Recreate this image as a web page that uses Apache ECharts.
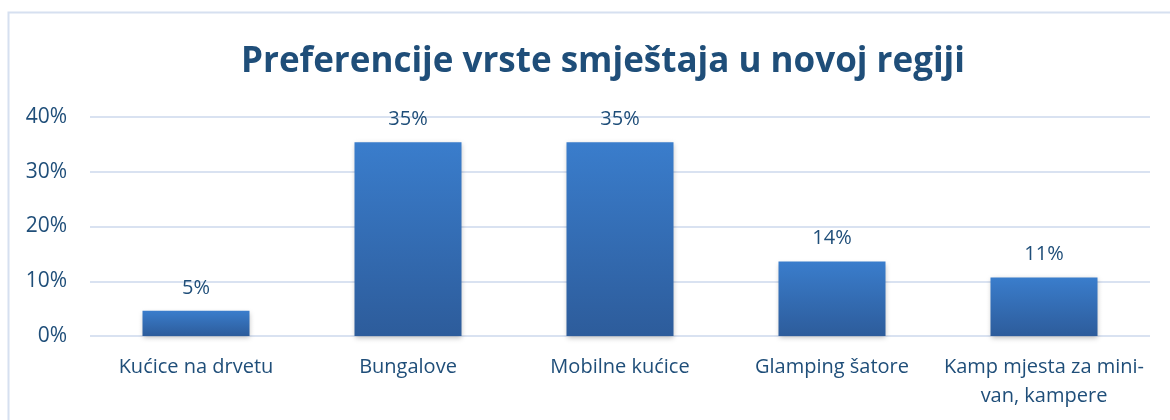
<!DOCTYPE html>
<html><head><meta charset="utf-8">
<script src="https://cdn.jsdelivr.net/npm/echarts@6/dist/echarts.min.js"></script>
<style>html,body{margin:0;padding:0;background:#fff}#c{width:1170px;height:420px}</style>
</head><body><div id="c"></div>
<script>
const categories = ['Kućice na drvetu', 'Bungalove', 'Mobilne kućice', 'Glamping šatore', 'Kamp mjesta za mini-\nvan, kampere'];
const values = [4.6, 35.4, 35.4, 13.6, 10.7];
const yTicks = [0, 10, 20, 30, 40];
const titleText = 'Preferencije vrste smještaja u novoj regiji';

const txt = '#1F4E79';
const font = 'Open Sans';
const chart = echarts.init(document.getElementById('c'), null, {renderer: 'canvas'});
chart.setOption({
  backgroundColor: '#fff',
  animation: false,
  graphic: [{
    type: 'rect', shape: {x: 8.5, y: 12.5, width: 1200, height: 500},
    style: {fill: 'none', stroke: '#D6E0F0', lineWidth: 2}, silent: true, z: -1
  }],
  title: {
    text: titleText, left: 598, textAlign: 'center', top: 40,
    textStyle: {color: txt, fontFamily: font, fontWeight: 'bold', fontSize: 35}
  },
  grid: {left: 90, right: 20, top: 117, bottom: 84},
  xAxis: {
    type: 'category', data: categories,
    axisLine: {show: false}, axisTick: {show: false},
    axisLabel: {color: txt, fontFamily: font, fontSize: 20, margin: 17, lineHeight: 29, interval: 0}
  },
  yAxis: {
    type: 'value', min: yTicks[0], max: yTicks[yTicks.length - 1], interval: 10,
    axisLine: {show: false}, axisTick: {show: false},
    axisLabel: {color: txt, fontFamily: font, fontSize: 21, margin: 23, formatter: v => v + '%'},
    splitLine: {lineStyle: {color: '#D9E2F1', width: 2}}
  },
  series: [{
    type: 'bar', data: values, barWidth: 107,
    itemStyle: {
      color: new echarts.graphic.LinearGradient(0, 0, 0, 1, [
        {offset: 0, color: '#3A7DCC'}, {offset: 1, color: '#2D5C9B'}
      ]),
      shadowColor: 'rgba(0,0,0,0.25)', shadowBlur: 5, shadowOffsetY: 2
    },
    label: {
      show: true, position: 'top', distance: 13, color: txt, fontFamily: font, fontSize: 20,
      formatter: p => Math.round(p.value) + '%'
    }
  }]
});
</script></body></html>
